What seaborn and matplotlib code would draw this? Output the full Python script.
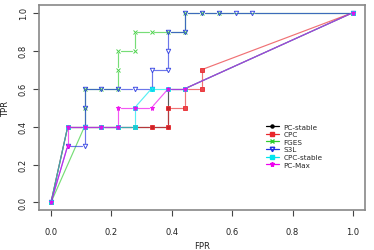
import numpy as np
import pandas as pd
import matplotlib
matplotlib.use("Agg")
import matplotlib.pyplot as plt
import seaborn as sns
from matplotlib.lines import Line2D

# ROC points (FPR in steps of 1/18)
n = 18.0
pcstable_fpr = [0, 1, 2, 3, 4, 5, 6, 7, 7, 7, 8, 18]
pcstable_tpr = [0, .4, .4, .4, .4, .4, .4, .4, .5, .6, .6, 1]
cpc_fpr = [0, 1, 2, 3, 4, 5, 6, 7, 7, 8, 8, 9, 9, 18]
cpc_tpr = [0, .4, .4, .4, .4, .4, .4, .4, .5, .5, .6, .6, .7, 1]
fges_fpr = [0, 2, 2, 2, 3, 4, 4, 4, 5, 5, 6, 7, 8, 8, 9, 10, 18]
fges_tpr = [0, .4, .5, .6, .6, .6, .7, .8, .8, .9, .9, .9, .9, 1, 1, 1, 1]
s3l_fpr = [0, 1, 2, 2, 2, 2, 3, 4, 5, 6, 6, 7, 7, 7, 8, 8, 9, 10, 11, 12, 18]
s3l_tpr = [0, .3, .3, .4, .5, .6, .6, .6, .6, .6, .7, .7, .8, .9, .9, 1, 1, 1, 1, 1, 1]
cpcst_fpr = [0, 1, 2, 3, 4, 5, 5, 6, 7, 8, 18]
cpcst_tpr = [0, .4, .4, .4, .4, .4, .5, .6, .6, .6, 1]
pcmax_fpr = [0, 1, 1, 2, 3, 4, 4, 5, 6, 7, 8, 18]
pcmax_tpr = [0, .3, .4, .4, .4, .4, .5, .5, .5, .6, .6, 1]

names = ["PC-stable", "CPC", "FGES", "S3L", "CPC-stable", "PC-Max"]
fprs = [pcstable_fpr, cpc_fpr, fges_fpr, s3l_fpr, cpcst_fpr, pcmax_fpr]
tprs = [pcstable_tpr, cpc_tpr, fges_tpr, s3l_tpr, cpcst_tpr, pcmax_tpr]
colors = ["#000000", "#E8262B", "#2ECC2E", "#1E2EE0", "#00E5EE", "#EE00EE"]
markers = ["o", "s", "x", "v", "s", "*"]
msizes = [2.2, 2.6, 3.0, 3.2, 2.6, 3.6]
filled = [True, True, False, False, True, True]

sns.set_style("white")
fig = plt.figure(figsize=(3.74, 2.51), dpi=100)
ax = fig.add_axes([0.104, 0.159, 0.872, 0.817])

# pixels per data unit, used to leave small gaps round the points (R type="b")
px, py = 305.0, 191.0
gap = 2.6


def segments(x, y):
    rows = []
    for i in range(len(x) - 1):
        dx, dy = (x[i + 1] - x[i]) * px, (y[i + 1] - y[i]) * py
        d = np.hypot(dx, dy)
        if d <= 2 * gap:
            continue
        ux, uy = dx / d * gap / px, dy / d * gap / py
        rows.append((i, x[i] + ux, y[i] + uy))
        rows.append((i, x[i + 1] - ux, y[i + 1] - uy))
    return pd.DataFrame(rows, columns=["seg", "FPR", "TPR"])


for name, fx, ty, c, m, ms, f in zip(names, fprs, tprs, colors, markers, msizes, filled):
    xs = np.array(fx) / n
    seg = segments(xs, np.array(ty, dtype=float))
    sns.lineplot(data=seg, x="FPR", y="TPR", units="seg", sort=False, estimator=None,
                 color=c, alpha=0.65, lw=0.85, ax=ax)
    ax.plot(xs, ty, ls="none", marker=m, ms=ms,
            mfc=(c if f else "none"), mec=c, mew=0.7, alpha=0.85)

ax.set_xlim(-0.04, 1.04)
ax.set_ylim(-0.04, 1.04)
ax.set_xticks([0, 0.2, 0.4, 0.6, 0.8, 1.0])
ax.set_yticks([0, 0.2, 0.4, 0.6, 0.8, 1.0])
ax.set_xticklabels(["0.0", "0.2", "0.4", "0.6", "0.8", "1.0"])
ax.set_yticklabels(["0.0", "0.2", "0.4", "0.6", "0.8", "1.0"], rotation=90, va="center")
ax.tick_params(axis="both", labelsize=6, length=4, width=0.8, color="#444444",
               labelcolor="#222222", direction="out", bottom=True, left=True)
ax.tick_params(axis="x", pad=8)
ax.tick_params(axis="y", pad=4)
for s in ax.spines.values():
    s.set_color("#888888")
    s.set_linewidth(1.2)
ax.set_xlabel("FPR", fontsize=6, color="#222222")
ax.set_ylabel("TPR", fontsize=6, color="#222222")
ax.xaxis.set_label_coords(0.5, -0.15)
ax.yaxis.set_label_coords(-0.088, 0.5)

handles = [Line2D([], [], color=c, lw=0.9, marker=m, ms=ms,
                  mfc=(c if f else "none"), mec=c)
           for c, m, ms, f in zip(colors, markers, msizes, filled)]
ax.legend(handles, names, loc="upper left", bbox_to_anchor=(0.685, 0.44),
          frameon=False, fontsize=5.2, handlelength=1.8, handletextpad=0.6,
          labelspacing=0.22, borderpad=0)

fig.savefig("out.png", dpi=100)
